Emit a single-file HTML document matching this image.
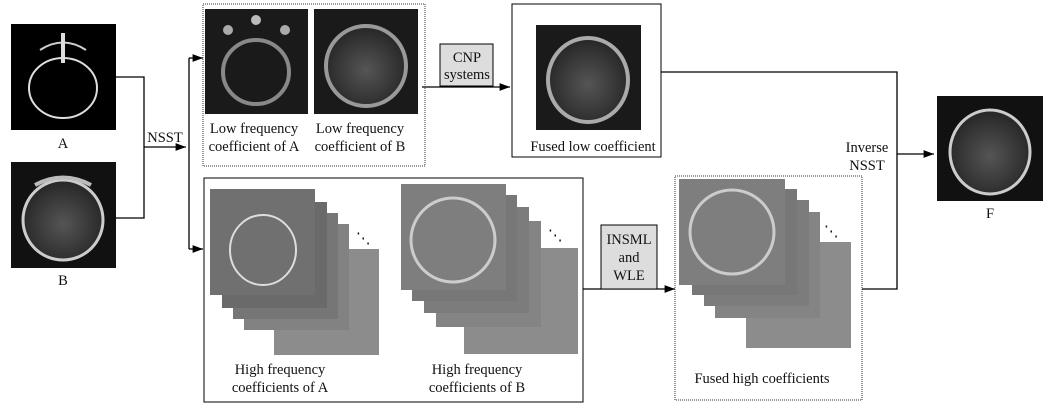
<!DOCTYPE html>
<html><head><meta charset="utf-8"><style>
body{margin:0;background:#fff}
svg{display:block}
text{font-family:"Liberation Serif",serif;font-size:14.5px;fill:#111}
</style></head><body>
<svg width="1056" height="409" viewBox="0 0 1056 409">
<defs>
<marker id="ar" markerWidth="8" markerHeight="6" refX="8" refY="3" orient="auto"><path d="M0,0L8,3L0,6z" fill="#000"/></marker>
<radialGradient id="glow" cx="50%" cy="55%" r="50%"><stop offset="0" stop-color="#555"/><stop offset="1" stop-color="#2a2a2a"/></radialGradient>
</defs>
<g stroke="#000" stroke-width="1.3" fill="none">
<path d="M116,77H144V218H116"/>
<path d="M144,147H186" marker-end="url(#ar)"/>
<path d="M189,58V249"/>
<path d="M189,58H203" marker-end="url(#ar)"/>
<path d="M189,249H203" marker-end="url(#ar)"/>
<path d="M422,87H510" marker-end="url(#ar)"/>
<path d="M661,72H897V289H862"/>
<path d="M897,154H934" marker-end="url(#ar)"/>
<path d="M583,289H675" marker-end="url(#ar)"/>
</g>
<rect x="203" y="4" width="222" height="162" fill="none" stroke="#333" stroke-dasharray="1,1"/>
<rect x="512" y="4" width="149" height="153" fill="none" stroke="#000"/>
<rect x="204" y="178" width="379" height="224" fill="none" stroke="#000"/>
<rect x="675" y="176" width="187" height="224" fill="none" stroke="#333" stroke-dasharray="1,1"/>
<rect x="440" y="44" width="53" height="42" fill="#ddd" stroke="#000"/>
<rect x="601" y="225" width="56" height="64" fill="#ddd" stroke="#000"/>
<g><rect x="11" y="24" width="105" height="106" fill="#000"/><ellipse cx="63" cy="88" rx="34" ry="30" fill="none" stroke="#ddd" stroke-width="2"/><path d="M40,50Q63,35 86,50" stroke="#ccc" stroke-width="2" fill="none"/><rect x="61" y="33" width="4" height="30" fill="#ddd"/></g>
<g><rect x="11" y="162" width="105" height="106" fill="#111"/><ellipse cx="63" cy="220" rx="40" ry="40" fill="url(#glow)" stroke="#ccc" stroke-width="3"/><path d="M35,185Q63,170 91,185" stroke="#bbb" stroke-width="4" fill="none"/></g>
<g><rect x="205" y="9" width="103" height="105" fill="#1a1a1a"/><ellipse cx="256" cy="72" rx="33" ry="32" fill="none" stroke="#888" stroke-width="4"/><circle cx="256" cy="20" r="5" fill="#bbb"/><circle cx="228" cy="30" r="5" fill="#aaa"/><circle cx="285" cy="30" r="5" fill="#aaa"/></g>
<g><rect x="314" y="9" width="104" height="105" fill="#1a1a1a"/><ellipse cx="366" cy="66" rx="40" ry="40" fill="url(#glow)" stroke="#999" stroke-width="4"/></g>
<g><rect x="536" y="25" width="105" height="105" fill="#1a1a1a"/><ellipse cx="588" cy="80" rx="40" ry="42" fill="url(#glow)" stroke="#aaa" stroke-width="4"/></g>
<g><rect x="937" y="96" width="106" height="105" fill="#111"/><ellipse cx="990" cy="152" rx="40" ry="42" fill="url(#glow)" stroke="#ccc" stroke-width="3"/></g>
<g>
<rect x="274" y="249" width="105" height="106" fill="#8c8c8c"/><rect x="244" y="224" width="105" height="106" fill="#828282"/><rect x="233" y="213" width="105" height="106" fill="#767676"/><rect x="222" y="202" width="105" height="106" fill="#6a6a6a"/>
<rect x="210" y="189" width="105" height="106" fill="#707070"/><ellipse cx="263" cy="250" rx="33" ry="35" fill="none" stroke="#ddd" stroke-width="2"/>
<text x="356" y="243" font-size="12">⋱</text></g>
<g>
<rect x="464" y="248" width="114" height="106" fill="#8c8c8c"/><rect x="436" y="221" width="105" height="106" fill="#848484"/><rect x="424" y="207" width="105" height="106" fill="#7c7c7c"/><rect x="412" y="195" width="105" height="106" fill="#777"/>
<rect x="401" y="184" width="105" height="106" fill="#7e7e7e"/><ellipse cx="453" cy="240" rx="42" ry="42" fill="none" stroke="#ccc" stroke-width="3"/>
<text x="548" y="240" font-size="12">⋱</text></g>
<g>
<rect x="746" y="242" width="105" height="106" fill="#8c8c8c"/><rect x="715" y="212" width="105" height="106" fill="#848484"/><rect x="704" y="200" width="105" height="106" fill="#7c7c7c"/><rect x="692" y="189" width="105" height="106" fill="#777"/>
<rect x="679" y="179" width="106" height="106" fill="#7e7e7e"/><ellipse cx="732" cy="232" rx="42" ry="42" fill="none" stroke="#ccc" stroke-width="3"/>
<text x="824" y="236" font-size="12">⋱</text></g>
<text x="63" y="148" text-anchor="middle">A</text>
<text x="63" y="285" text-anchor="middle">B</text>
<text x="165" y="142" text-anchor="middle">NSST</text>
<text x="254" y="133" text-anchor="middle">Low frequency</text>
<text x="254" y="151" text-anchor="middle">coefficient of A</text>
<text x="360" y="133" text-anchor="middle">Low frequency</text>
<text x="360" y="151" text-anchor="middle">coefficient of B</text>
<text x="467" y="62" text-anchor="middle">CNP</text>
<text x="467" y="79" text-anchor="middle">systems</text>
<text x="593" y="151" text-anchor="middle">Fused low coefficient</text>
<text x="867" y="152" text-anchor="middle">Inverse</text>
<text x="867" y="170" text-anchor="middle">NSST</text>
<text x="990" y="218" text-anchor="middle">F</text>
<text x="629" y="244" text-anchor="middle">INSML</text>
<text x="629" y="262" text-anchor="middle">and</text>
<text x="629" y="280" text-anchor="middle">WLE</text>
<text x="280" y="374" text-anchor="middle">High frequency</text>
<text x="280" y="392" text-anchor="middle">coefficients of A</text>
<text x="477" y="374" text-anchor="middle">High frequency</text>
<text x="477" y="392" text-anchor="middle">coefficients of B</text>
<text x="762" y="383" text-anchor="middle">Fused high coefficients</text>
</svg>
</body></html>
